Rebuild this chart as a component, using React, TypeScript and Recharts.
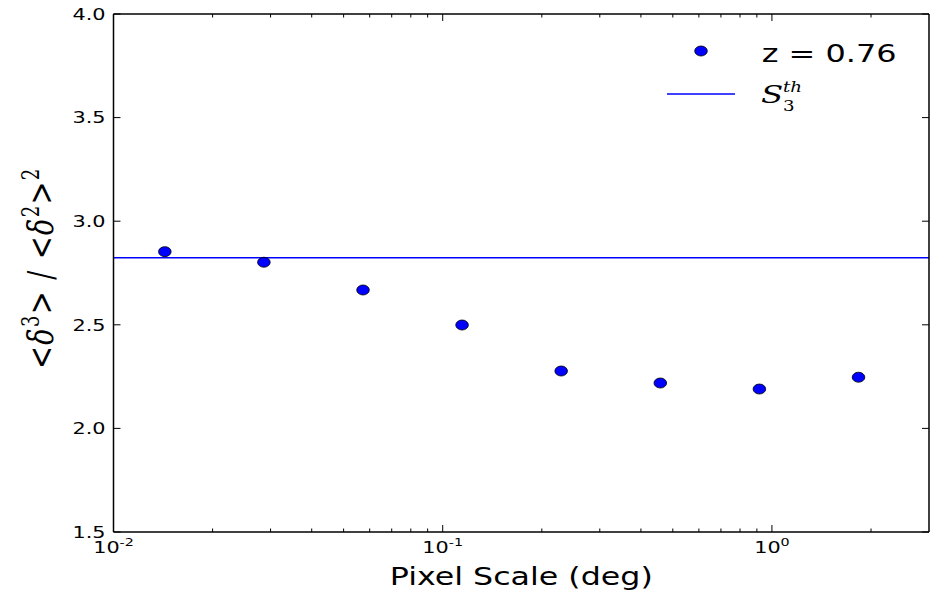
import React from "react";
import { ComposedChart, Scatter, XAxis, YAxis, ReferenceLine, Legend } from "recharts";

// HEALPix-like pixel scales (deg)
const pixelScale = [0.01432, 0.02863, 0.05727, 0.1145, 0.229, 0.4581, 0.9161, 1.8323];
const s3Values = [2.853, 2.802, 2.668, 2.499, 2.277, 2.219, 2.19, 2.247];
const s3Theory = 2.824;
const seriesLabel = "z = 0.76";

const majorXTicks = [0.01, 0.1, 1];
const minorXTicks = [0.02, 0.03, 0.04, 0.05, 0.06, 0.07, 0.08, 0.09, 0.2, 0.3, 0.4, 0.5, 0.6, 0.7, 0.8, 0.9, 2];
const yTicks = [1.5, 2.0, 2.5, 3.0, 3.5, 4.0];

const points = pixelScale.map((s, i) => ({ scale: s, s3: s3Values[i] }));
const allXTicks = [...majorXTicks, ...minorXTicks].sort((a, b) => a - b);

const SX = 1.3;
const SANS = "DejaVu Sans";
const SERIF = "DejaVu Serif";
const W = 939;
const H = 596;

const isMajor = (v: number) => majorXTicks.some((m) => Math.abs(m - v) < 1e-9);

const BottomTick = (props: any) => {
  const { x, y, payload } = props;
  const v = payload.value;
  const major = isMajor(v);
  const len = major ? 7 : 3.5;
  const exp = Math.round(Math.log10(v));
  return (
    <g>
      <line x1={x} x2={x} y1={y} y2={y - len} stroke="#000" strokeWidth={1} />
      {major && (
        <g transform={`translate(${x},${y + 21}) scale(${SX},1)`}>
          <text textAnchor="middle" fontFamily={SANS} fontSize={16} fill="#000">
            <tspan>10</tspan>
            <tspan dy={-7.5} fontSize={11}>{exp}</tspan>
          </text>
        </g>
      )}
    </g>
  );
};

const TopTick = (props: any) => {
  const { x, y, payload } = props;
  const len = isMajor(payload.value) ? 7 : 3.5;
  return <line x1={x} x2={x} y1={y} y2={y + len} stroke="#000" strokeWidth={1} />;
};

const LeftTick = (props: any) => {
  const { x, y, payload } = props;
  return (
    <g>
      <line x1={x} x2={x + 7} y1={y} y2={y} stroke="#000" strokeWidth={1} />
      <g transform={`translate(${x - 8},${y + 5.8}) scale(${SX},1)`}>
        <text textAnchor="end" fontFamily={SANS} fontSize={16} fill="#000">
          {Number(payload.value).toFixed(1)}
        </text>
      </g>
    </g>
  );
};

const RightTick = (props: any) => {
  const { x, y } = props;
  return <line x1={x} x2={x - 7} y1={y} y2={y} stroke="#000" strokeWidth={1} />;
};

const Marker = (props: any) => {
  const { cx, cy } = props;
  return <ellipse cx={cx} cy={cy} rx={6.3} ry={5} fill="#0000ff" stroke="#000" strokeWidth={0.8} />;
};

const NoMarker = () => <g />;

const XLabel = (props: any) => {
  const vb = props.viewBox || {};
  const cx = vb.x + vb.width / 2;
  const by = vb.y + 53;
  return (
    <g transform={`translate(${cx},${by}) scale(1.32,1)`}>
      <text textAnchor="middle" fontFamily={SANS} fontSize={24} fill="#000">
        Pixel Scale (deg)
      </text>
    </g>
  );
};

const YLabel = () => {
  return (
    <g transform={`translate(53,268) scale(${SX},1) rotate(-90)`}>
      <text textAnchor="middle" fontFamily={SERIF} fontSize={27} letterSpacing={1.5} fill="#000">
        <tspan>{"<"}</tspan>
        <tspan fontStyle="italic">δ</tspan>
        <tspan dy={-11} fontSize={18}>3</tspan>
        <tspan dy={11}>{">"}</tspan>
        <tspan>{" / "}</tspan>
        <tspan>{"<"}</tspan>
        <tspan fontStyle="italic">δ</tspan>
        <tspan dy={-11} fontSize={18}>2</tspan>
        <tspan dy={11}>{">"}</tspan>
        <tspan dy={-11} fontSize={18}>2</tspan>
      </text>
    </g>
  );
};

const LegendOverlay = () => (
  <svg width={W} height={H} style={{ position: "absolute", left: 0, top: 0 }}>
    <ellipse cx={701} cy={51} rx={6.3} ry={5} fill="#0000ff" stroke="#000" strokeWidth={0.8} />
    <g transform={`translate(761.7,61.7) scale(1.33,1)`}>
      <text fontFamily={SANS} fontSize={24} fill="#000">{seriesLabel}</text>
    </g>
    <line x1={667} x2={735} y1={94} y2={94} stroke="#0000ff" strokeWidth={1.5} />
    <g transform={`translate(761,102.5) scale(${SX},1)`}>
      <text fontFamily={SERIF} fontStyle="italic" fontSize={25} fill="#000">S</text>
    </g>
    <g transform={`translate(783,91.5) scale(${SX},1)`}>
      <text fontFamily={SERIF} fontStyle="italic" fontSize={14} fill="#000">th</text>
    </g>
    <g transform={`translate(783,110.5) scale(${SX},1)`}>
      <text fontFamily={SERIF} fontSize={14} fill="#000">3</text>
    </g>
  </svg>
);

export default function App() {
  return (
    <div style={{ width: W, height: H, position: "relative", margin: "-8px 0 0 -8px" }}>
      <ComposedChart width={W} height={H} margin={{ top: 13, right: 9, bottom: 0, left: 0 }} data={points}>
        <XAxis
          dataKey="scale"
          type="number"
          scale="log"
          domain={[0.01, 3]}
          allowDataOverflow
          ticks={allXTicks}
          interval={0}
          tickSize={0}
          tickMargin={0}
          tickLine={false}
          height={64}
          axisLine={{ stroke: "#000", strokeWidth: 1.5 }}
          tick={<BottomTick />}
          label={{ content: (p: any) => <XLabel {...p} /> }}
        />
        <XAxis
          xAxisId="t"
          orientation="top"
          dataKey="scale"
          type="number"
          scale="log"
          domain={[0.01, 3]}
          allowDataOverflow
          ticks={allXTicks}
          interval={0}
          tickSize={0}
          tickMargin={0}
          tickLine={false}
          height={1}
          axisLine={{ stroke: "#000", strokeWidth: 1.5 }}
          tick={<TopTick />}
        />
        <YAxis
          type="number"
          domain={[1.5, 4]}
          ticks={yTicks}
          interval={0}
          allowDataOverflow
          tickSize={0}
          tickMargin={0}
          tickLine={false}
          width={113.5}
          axisLine={{ stroke: "#000", strokeWidth: 1.5 }}
          tick={<LeftTick />}
          label={{ content: () => <YLabel /> }}
        />
        <YAxis
          yAxisId="r"
          orientation="right"
          type="number"
          domain={[1.5, 4]}
          ticks={yTicks}
          interval={0}
          allowDataOverflow
          tickSize={0}
          tickMargin={0}
          tickLine={false}
          width={1}
          axisLine={{ stroke: "#000", strokeWidth: 1.5 }}
          tick={<RightTick />}
        />
        <ReferenceLine y={s3Theory} stroke="#0000ff" strokeWidth={1.5} />
        <Scatter
          xAxisId="t"
          yAxisId="r"
          dataKey="s3"
          shape={<NoMarker />}
          legendType="none"
          isAnimationActive={false}
        />
        <Scatter name={seriesLabel} dataKey="s3" shape={<Marker />} isAnimationActive={false} />
        <Legend
          layout="horizontal"
          verticalAlign="middle"
          align="center"
          wrapperStyle={{ position: "absolute", left: 0, top: 0, width: W, height: H, pointerEvents: "none" }}
          content={() => <LegendOverlay />}
        />
      </ComposedChart>
    </div>
  );
}
